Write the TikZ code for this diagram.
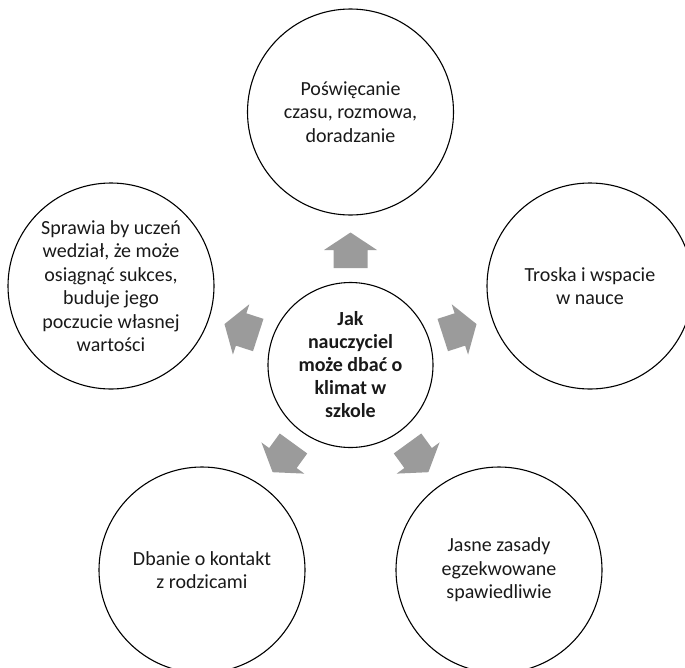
\documentclass[tikz,border=0pt]{standalone}
\usepackage{fontspec}
\setmainfont{Carlito}
\definecolor{arrowgray}{RGB}{155,155,155}
\definecolor{inkgray}{RGB}{25,25,25}
\begin{document}
\begin{tikzpicture}[x=1pt,y=-1pt,
  bubble/.style={circle, draw=black, line width=1.1pt, inner sep=0pt,
    align=center, text=inkgray, font=\fontsize{20}{23.5}\selectfont},
  outer/.style={bubble, minimum size=206pt},
  hub/.style={bubble, minimum size=165pt, font=\bfseries\fontsize{20}{23}\selectfont},
  blockarrow/.style={fill=arrowgray, draw=none}]
\useasboundingbox (0,0) rectangle (685,667);

% central topic
\node[hub] (hub) at (350.5,365) {Jak\\nauczyciel\\może dbać o\\klimat w\\szkole};

% surrounding ideas
\node[outer] (top) at (350.5,112) {Poświęcanie\\czasu, rozmowa,\\doradzanie};
\node[outer] (right) at (590,286) {Troska i wspacie\\w nauce};
\node[outer] (bright) at (499,570) {Jasne zasady\\egzekwowane\\spawiedliwie};
\node[outer] (bleft) at (202,570) {Dbanie o kontakt\\z rodzicami};
\node[outer] (left) at (111,286) {Sprawia by uczeń\\wedział, że może\\osiągnąć sukces,\\buduje jego\\poczucie własnej\\wartości};

% block arrows pointing outwards from the hub
\foreach \ang in {90,18,-54,-126,162}{
  \fill[blockarrow, shift={(hub.center)}, rotate=\ang]
    (97,-17) -- (115,-17) -- (115,-26.5) -- (132.5,0)
    -- (115,26.5) -- (115,17) -- (97,17) -- cycle;
}
\end{tikzpicture}
\end{document}
